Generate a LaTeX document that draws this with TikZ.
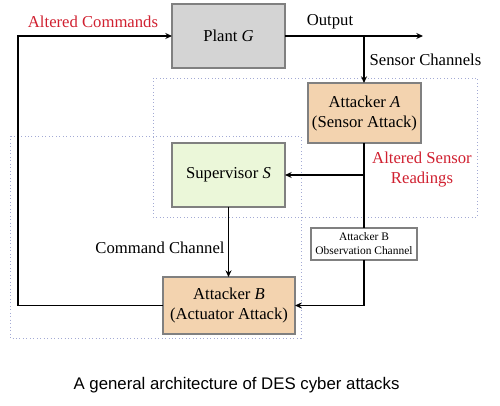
\documentclass[tikz,border=0pt]{standalone}
\usepackage{fontspec}
\setmainfont{Liberation Serif}
\newfontfamily\capfont{Liberation Sans}
\usepackage{tikz}
\usetikzlibrary{arrows.meta}
\definecolor{plantgray}{HTML}{D4D4D4}
\definecolor{attacktan}{HTML}{F3D3AF}
\definecolor{supgreen}{HTML}{EBF7D9}
\definecolor{altred}{HTML}{D02030}
\definecolor{zoneblue}{HTML}{A3AAD4}
\definecolor{boxedge}{HTML}{808080}

\begin{document}
\begin{tikzpicture}[x=0.75pt,y=-0.75pt,
  box/.style={draw=boxedge, line width=0.8pt, inner sep=0pt, outer sep=0pt,
    align=center, font=\fontsize{12.5}{15}\selectfont},
  lbl/.style={font=\fontsize{12.5}{15}\selectfont, align=center},
  conn/.style={line width=1.1pt, -{Stealth[length=5pt,width=4.5pt]}},
  zone/.style={draw=zoneblue, line width=0.6pt, dotted}]
\useasboundingbox (0,0) rectangle (500,406);
%% zones
\draw [zone] (153,78) rectangle (477,217);
\draw [zone] (10,136) rectangle (301,338);
%% boxes
\node [box, fill=plantgray, minimum width=84.75pt, minimum height=48pt] (plant) at (228.5,36) {Plant \textit{G}};
\node [box, fill=attacktan, minimum width=84.75pt, minimum height=45pt] (attA) at (364.5,113) {Attacker \textit{A}\\(Sensor Attack)};
\node [box, fill=supgreen, minimum width=84.75pt, minimum height=48pt] (sup) at (228.5,175) {Supervisor \textit{S}};
\node [box, fill=white, minimum width=79.5pt, minimum height=24pt, font=\fontsize{8.6}{10.5}\selectfont] (obs) at (364,244) {Attacker B\\Observation Channel};
\node [box, fill=attacktan, minimum width=99pt, minimum height=42.75pt] (attB) at (229,305.5) {Attacker \textit{B}\\(Actuator Attack)};
%% free ends
\coordinate (outend) at (423,36);
\coordinate (tap) at (364,36);
\coordinate (lc) at (18,36);
\coordinate (split) at (364,175);
%% connectors
\draw [conn] (plant.east) -- (outend);
\draw [conn] (tap) -- (tap |- attA.north);
\draw [line width=1.1pt] (split |- attA.south) -- (split |- obs.north);
\draw [conn] (split) -- (sup.east);
\draw [conn] (split |- obs.south) |- (attB.east);
\draw [conn] (sup.south) -- (sup.south |- attB.north);
\draw [conn] (attB.west) -| (lc) -- (plant.west);
%% labels
\node [lbl, text=altred] (altcmd) at (93,22) {Altered Commands};
\node [lbl] (output) at (330,22) {Output};
\node [lbl] (senschan) at (425.5,60) {Sensor Channels};
\node [lbl, text=altred] (altsens) at (422,170) {Altered Sensor\\Readings};
\node [lbl] (cmdchan) at (160,248) {Command Channel};
\node [font=\capfont\fontsize{12.6}{15}\selectfont] (caption) at (236.5,385) {A general architecture of DES cyber attacks};
\end{tikzpicture}
\end{document}
